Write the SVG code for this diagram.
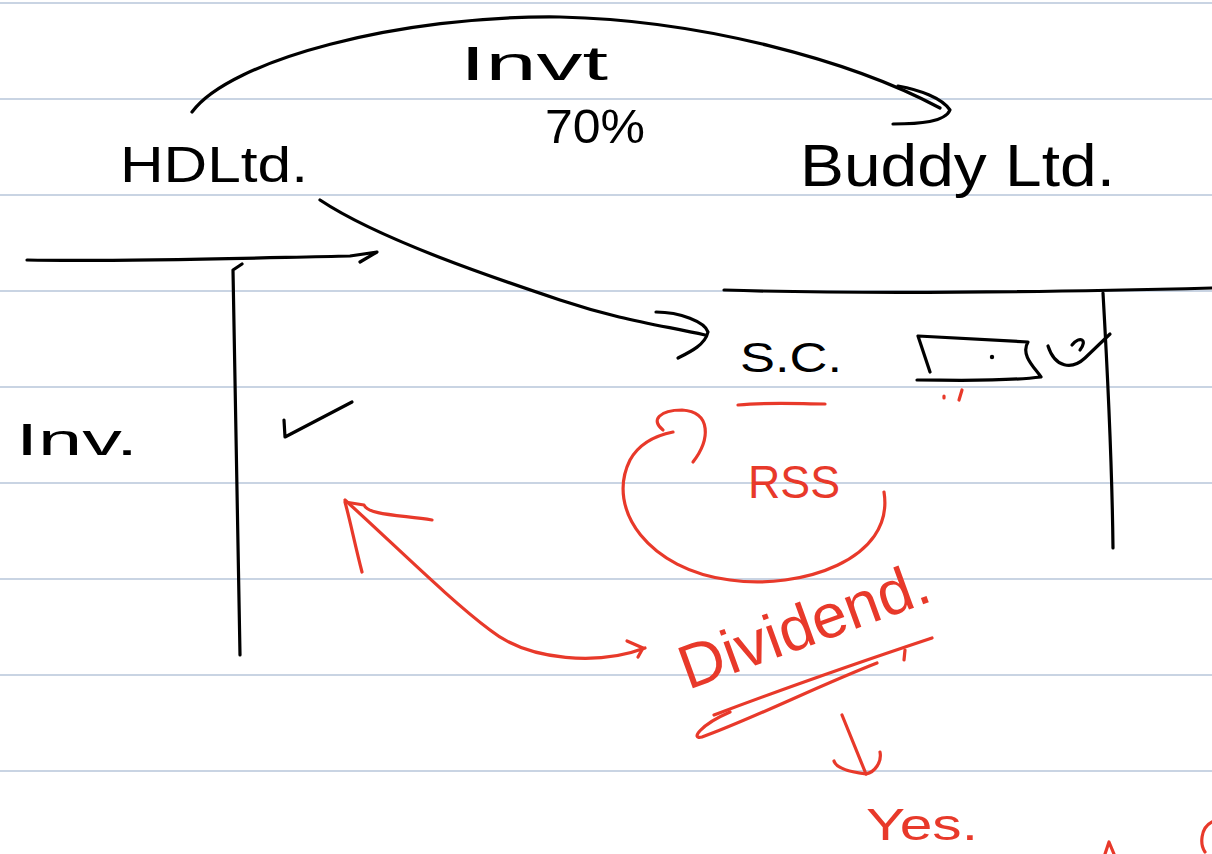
<svg xmlns="http://www.w3.org/2000/svg" width="1212" height="854" viewBox="0 0 1212 854">
<style>
.rule{stroke:#b7c6da;stroke-width:1.6}
.k{fill:none;stroke:#000;stroke-width:3.2;stroke-linecap:round;stroke-linejoin:round}
.r{fill:none;stroke:#e8392a;stroke-width:3.2;stroke-linecap:round;stroke-linejoin:round}
.kt{font-family:"Liberation Sans",Arial,sans-serif;fill:#000}
.rt{font-family:"Liberation Sans",Arial,sans-serif;fill:#e8392a}
</style>
<rect width="1212" height="854" fill="#fff"/>
<g id="rules">
<line class="rule" x1="0" y1="3" x2="1212" y2="3"/>
<line class="rule" x1="0" y1="99" x2="1212" y2="99"/>
<line class="rule" x1="0" y1="195" x2="1212" y2="195"/>
<line class="rule" x1="0" y1="291" x2="1212" y2="291"/>
<line class="rule" x1="0" y1="387" x2="1212" y2="387"/>
<line class="rule" x1="0" y1="483" x2="1212" y2="483"/>
<line class="rule" x1="0" y1="579" x2="1212" y2="579"/>
<line class="rule" x1="0" y1="675" x2="1212" y2="675"/>
<line class="rule" x1="0" y1="771" x2="1212" y2="771"/>
</g>
<g id="connectors">
<path class="k" d="M192,112 C230,60 400,15 560,17 C700,20 850,60 940,108"/>
<path class="k" d="M898,86 C920,90 942,98 950,110 C945,122 920,124 893,124"/>
<path class="k" d="M320,200 C380,240 500,280 560,300 C620,320 660,325 705,335"/>
<path class="k" d="M656,312 C680,312 705,322 708,332 C705,345 690,352 678,358"/>
<path class="r" d="M884,492 C895,560 800,590 730,580 C650,570 605,510 630,460 C640,442 658,435 673,432"/>
<path class="r" d="M693,462 C710,440 712,412 682,410 C660,410 650,420 663,430"/>
<path class="r" d="M345,500 C400,550 450,600 490,630 C530,662 600,665 645,648"/>
<path class="r" d="M362,572 C355,545 350,520 345,502 L364,505 C368,515 400,515 432,520"/>
<path class="r" d="M627,641 L643,648 L638,657"/>
<path class="r" d="M842,715 L866,774"/>
<path class="r" d="M834,761 C836,768 850,772 866,774 C875,772 882,762 880,752"/>
</g>
<g id="hdltd">
<text class="kt" x="120" y="182" font-size="50" textLength="188" lengthAdjust="spacingAndGlyphs">HDLtd.</text>
</g>
<g id="invt">
<text class="kt" x="460" y="80" font-size="48" textLength="148" lengthAdjust="spacingAndGlyphs">Invt</text>
<text class="kt" x="545" y="143" font-size="48" textLength="100" lengthAdjust="spacingAndGlyphs">70%</text>
</g>
<g id="buddy">
<text class="kt" x="800" y="186" font-size="60" textLength="315" lengthAdjust="spacingAndGlyphs">Buddy Ltd.</text>
</g>
<g id="left-account">
<path class="k" d="M27,260 C120,262 250,258 350,256 L377,252 L360,262"/>
<path class="k" d="M242,264 L233,270 L240,655"/>
<text class="kt" x="16" y="455" font-size="44" textLength="122" lengthAdjust="spacingAndGlyphs">Inv.</text>
<path class="k" d="M284,420 L285,437 L352,402"/>
</g>
<g id="right-account">
<path class="k" d="M724,290 C850,294 1050,292 1212,288"/>
<path class="k" d="M1103,293 C1108,380 1112,460 1113,548"/>
<text class="kt" x="740" y="372" font-size="42" textLength="102" lengthAdjust="spacingAndGlyphs">S.C.</text>
<path class="k" d="M930,372 L918,336 L1028,342 C1020,355 1035,368 1041,377 C1000,382 950,380 917,380"/>
<circle cx="992" cy="357" r="2.2" fill="#000"/>
<path class="k" d="M1048,346 C1055,368 1072,370 1085,358 L1110,334 M1072,345 C1080,335 1088,340 1080,350"/>
<path class="r" d="M738,405 C770,402 800,404 825,404"/>
<path class="r" d="M944,396 L944,398 M962,390 L959,400"/>
</g>
<g id="rss">
<text class="rt" x="748" y="498" font-size="46" textLength="92" lengthAdjust="spacingAndGlyphs">RSS</text>
</g>
<g id="dividend">
<text class="rt" x="688" y="690" font-size="62" transform="rotate(-20 688 690)" textLength="262" lengthAdjust="spacingAndGlyphs">Dividend.</text>
<path class="r" d="M714,715 C780,690 860,662 932,638" stroke-width="4.5"/>
<path class="r" d="M877,663 C820,685 750,720 702,737 C690,740 700,725 730,712"/>
<path class="r" d="M905,650 L904,660"/>
</g>
<g id="yes">
<text class="rt" x="866" y="840" font-size="44" textLength="112" lengthAdjust="spacingAndGlyphs">Yes.</text>
<path class="r" d="M1105,854 L1109,842 L1114,854 M1212,822 C1200,828 1200,845 1205,852"/>
</g>
</svg>
